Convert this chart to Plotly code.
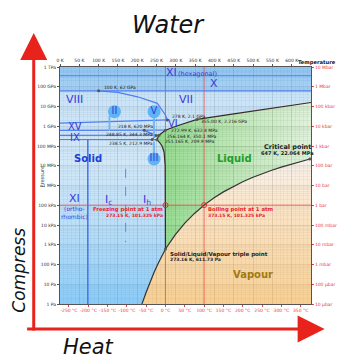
import plotly.graph_objects as go

# ---------------- data ----------------
T_MIN, T_MAX = 0.0, 650.0          # K
LOGP_MIN, LOGP_MAX = 0.0, 12.0     # log10(Pa)
P_MIN, P_MAX = 1.0, 1e12

# solid/liquid boundary (Ih, III, V, VI, VII melting curves)
melt_T = [273.16, 273.15, 272.4, 269.5, 264.2, 258.0, 251.165, 256.164, 265.0, 272.99, 300.0, 330.0, 355.0, 450.0, 550.0, 650.0]
melt_P = [611.657, 101325, 1e7, 5e7, 1e8, 1.5e8, 2.099e8, 3.501e8, 4.8e8, 6.324e8, 1.0e9, 1.6e9, 2.216e9, 4.2e9, 8.1e9, 1.6e10]

# liquid/vapour boundary (to critical point)
vap_T = [273.16, 298.15, 323.15, 348.15, 373.15, 398.15, 423.15, 448.15, 473.15, 498.15, 523.15, 548.15, 573.15, 598.15, 623.15, 647.0]
vap_P = [611.657, 3169.9, 12352, 38597, 101418, 232201, 476101, 892000, 1554900, 2550300, 3976200, 5941800, 8587900, 12046000, 16529000, 22064000]

# solid/vapour boundary (sublimation)
sub_T = [273.16, 263.15, 253.15, 243.15, 233.15, 223.15, 212.2]
sub_P = [611.657, 259.9, 103.2, 38.0, 12.84, 3.94, 1.0]

# ice-ice boundaries
b_xi_x_T, b_xi_x_P = [0, 650], [3.6e11, 3.6e11]
b_x_T, b_x_P = [0, 650], [6.2e10, 6.2e10]
b_viii_vii_T = [100, 150, 201, 252, 273, 278]
b_viii_vii_P = [6.2e10, 5.2e10, 3.1e10, 1.45e10, 3.7e9, 2.1e9]
b_vi_T, b_vi_P = [0, 278], [1.45e9, 2.1e9]
b_620_T, b_620_P = [0, 218, 272.99], [6.2e8, 6.2e8, 6.324e8]
b_344_T, b_344_P = [0, 248.85, 256.164], [3.443e8, 3.443e8, 3.501e8]
b_213_T, b_213_P = [0, 238.5, 251.165], [2.129e8, 2.129e8, 2.099e8]
b_ii_iii_T, b_ii_iii_P = [238.5, 248.85], [2.129e8, 3.443e8]
b_ii_v_T, b_ii_v_P = [248.85, 218], [3.443e8, 6.2e8]
b_xi_ic_T, b_xi_ic_P = [72, 72], [1.0, 2.129e8]
b_ic_ih_T, b_ic_ih_P = [170, 170], [7e6, 1.35e3]

# reference lines
ref_freeze_T, ref_boil_T, ref_atm_P = 273.15, 373.15, 101325

# labelled points
pts_T = [100, 278, 355, 218, 272.99, 248.85, 256.164, 238.5, 251.165, 273.16, 647]
pts_P = [6.2e10, 2.1e9, 2.216e9, 6.2e8, 6.324e8, 3.443e8, 3.501e8, 2.129e8, 2.099e8, 611.73, 2.2064e7]
atm_pts_T = [273.15, 373.15]
atm_pts_P = [101325, 101325]

pt_label_text = ["100 K, 62 GPa", "278 K, 2.1 GPa", "355.00 K, 2.216 GPa", "218 K, 620 MPa",
                 "272.99 K, 632.4 MPa", "248.85 K, 344.3 MPa", "256.164 K, 350.1 MPa",
                 "238.5 K, 212.9 MPa", "251.165 K, 209.9 MPa"]
pt_label_K = [108, 284, 360, 144, 281, 113, 273, 122, 267]
pt_label_logP = [10.95, 9.50, 9.23, 8.98, 8.76, 8.56, 8.50, 8.14, 8.21]

region_text = ["XI", "(hexagonal)", "X", "VIII", "VII", "VI", "XV", "IX", "XI", "(ortho-<br>rhombic)", "I<sub>c</sub>", "I<sub>h</sub>"]
region_K = [290, 357, 398, 38, 327, 292, 38, 38, 38, 37, 126, 225]
region_logP = [11.70, 11.66, 11.14, 10.36, 10.36, 9.14, 9.00, 8.42, 5.32, 4.63, 5.27, 5.27]
region_size = [11, 6.5, 11, 11, 11, 10, 10, 10, 11, 6, 11, 11]

circ_text = ["II", "V", "III"]
circ_T = [141, 243.5, 243.5]
circ_P = [5.5e9, 5.5e9, 2.2e7]
stem_ii_T, stem_ii_P = [128, 128], [3.4e9, 5.8e8]
stem_v_T, stem_v_P = [243.5, 243.5], [3.4e9, 3.0e8]
stem_iii_T, stem_iii_P = [243.5, 243.5], [4.0e7, 1.7e8]

K_ticks = [0, 50, 100, 150, 200, 250, 300, 350, 400, 450, 500, 550, 600]
K_labels = ["0 K", "50 K", "100 K", "150 K", "200 K", "250 K", "300 K", "350 K", "400 K", "450 K", "500 K", "550 K", "600 K"]
C_ticks = [-250, -200, -150, -100, -50, 0, 50, 100, 150, 200, 250, 300, 350]
C_labels = ["-250 °C", "-200 °C", "-150 °C", "-100 °C", "-50 °C", "0 °C", "50 °C", "100 °C", "150 °C", "200 °C", "250 °C", "300 °C", "350 °C"]
P_exp = list(range(13))
Pa_labels = ["1 Pa", "10 Pa", "100 Pa", "1 kPa", "10 kPa", "100 kPa", "1 MPa", "10 MPa", "100 MPa", "1 GPa", "10 GPa", "100 GPa", "1 TPa"]
bar_labels = ["10 μbar", "100 μbar", "1 mbar", "10 mbar", "100 mbar", "1 bar", "10 bar", "100 bar", "1 kbar", "10 kbar", "100 kbar", "1 Mbar", "10 Mbar"]

# ---------------- figure ----------------
FONT = "DejaVu Sans"
BLUE_LINE = "#4f7ff0"
fig = go.Figure()

def poly(xs, ys, grad):
    fig.add_trace(go.Scatter(x=xs, y=ys, mode="lines", line=dict(width=0), fill="toself",
                             fillgradient=grad, hoverinfo="skip", showlegend=False))

# ice region
ice_x = [T_MIN, T_MIN, T_MAX] + melt_T[::-1] + sub_T[1:] + [T_MIN]
ice_y = [P_MIN, P_MAX, P_MAX] + melt_P[::-1] + sub_P[1:] + [P_MIN]
poly(ice_x, ice_y, dict(type="vertical", colorscale=[
    [0.0, "rgba(110,190,245,0.80)"], [0.35, "rgba(160,210,245,0.70)"], [0.6, "rgba(190,222,246,0.70)"],
    [0.899, "rgba(180,216,245,0.72)"], [0.9, "rgba(140,195,240,0.75)"], [1.0, "rgba(120,184,238,0.80)"]]))

# liquid region
liq_x = melt_T + [T_MAX] + vap_T[::-1]
liq_y = melt_P + [vap_P[-1]] + vap_P[::-1]
poly(liq_x, liq_y, dict(type="horizontal", colorscale=[
    [0.0, "rgba(110,205,105,0.75)"], [0.5, "rgba(160,220,150,0.68)"], [1.0, "rgba(205,234,198,0.65)"]]))

# vapour region
vp_x = vap_T + [T_MAX, T_MAX] + sub_T[::-1]
vp_y = vap_P + [vap_P[-1], P_MIN] + sub_P[::-1]
poly(vp_x, vp_y, dict(type="vertical", colorscale=[
    [0.0, "rgba(245,195,120,0.80)"], [0.6, "rgba(248,215,170,0.72)"], [1.0, "rgba(245,236,226,0.65)"]]))

def line(xs, ys, color, width=1.2, dash="solid"):
    fig.add_trace(go.Scatter(x=xs, y=ys, mode="lines", line=dict(color=color, width=width, dash=dash),
                             hoverinfo="skip", showlegend=False))

# red reference lines
line([ref_freeze_T, ref_freeze_T], [P_MIN, P_MAX], "rgba(235,70,70,0.75)", 1)
line([ref_boil_T, ref_boil_T], [P_MIN, P_MAX], "rgba(235,70,70,0.75)", 1)
line([T_MIN, T_MAX], [ref_atm_P, ref_atm_P], "rgba(235,70,70,0.75)", 1)

# ice boundaries
for bx, by in [(b_xi_x_T, b_xi_x_P), (b_x_T, b_x_P), (b_viii_vii_T, b_viii_vii_P), (b_vi_T, b_vi_P),
               (b_620_T, b_620_P), (b_344_T, b_344_P), (b_213_T, b_213_P), (b_ii_iii_T, b_ii_iii_P),
               (b_ii_v_T, b_ii_v_P)]:
    line(bx, by, BLUE_LINE, 1.2)
line(b_xi_ic_T, b_xi_ic_P, "#4a78ec", 1.6)
line(b_ic_ih_T, b_ic_ih_P, "#5a86f0", 1.0, "dash")
for sx, sy in [(stem_ii_T, stem_ii_P), (stem_v_T, stem_v_P), (stem_iii_T, stem_iii_P)]:
    line(sx, sy, "#6fb4f5", 1.8)

# phase boundaries
line(melt_T, melt_P, "#3a2a2a", 1.2)
line(vap_T, vap_P, "#333333", 1.2)
line(sub_T, sub_P, "#333333", 1.2)

# points
fig.add_trace(go.Scatter(x=pts_T, y=pts_P, mode="markers", marker=dict(size=3, color="#555"),
                         hoverinfo="skip", showlegend=False))
fig.add_trace(go.Scatter(x=atm_pts_T, y=atm_pts_P, mode="markers",
                         marker=dict(size=5, color="rgba(255,255,255,0)", line=dict(color="#e03030", width=1)),
                         hoverinfo="skip", showlegend=False))
# circled labels
fig.add_trace(go.Scatter(x=circ_T, y=circ_P, mode="markers+text", text=circ_text,
                         textposition="middle center",
                         textfont=dict(family=FONT, size=10, color="#3a3ad8"),
                         marker=dict(size=13, color="#5db5f5"), hoverinfo="skip", showlegend=False))

# invisible trace for secondary axes
fig.add_trace(go.Scatter(x=[T_MIN, T_MAX], y=[P_MIN, P_MAX], xaxis="x2", yaxis="y2", mode="markers",
                         marker=dict(opacity=0), hoverinfo="skip", showlegend=False))

ann = []
for t, k, lp, s in zip(region_text, region_K, region_logP, region_size):
    ann.append(dict(x=k, y=lp, text=t, showarrow=False, font=dict(family=FONT, size=s, color="#3a3ad8")))
for t, k, lp in zip(pt_label_text, pt_label_K, pt_label_logP):
    ann.append(dict(x=k, y=lp, text=t, xanchor="left", showarrow=False, font=dict(family=FONT, size=4.5, color="#222")))

phase_text = ["<b>Solid</b>", "<b>Liquid</b>", "<b>Vapour</b>"]
phase_K = [72, 451, 500]
phase_logP = [7.38, 7.39, 1.50]
phase_col = ["#1a3fd6", "#1f9e2a", "#a07a10"]
for t, k, lp, c in zip(phase_text, phase_K, phase_logP, phase_col):
    ann.append(dict(x=k, y=lp, text=t, showarrow=False, font=dict(family=FONT, size=10, color=c)))

note_text = ["<b>Critical point</b>", "<b>647 K, 22.064 MPa</b>",
             "<b>Freezing point at 1 atm</b>", "<b>273.15 K, 101.325 kPa</b>",
             "<b>Boiling point at 1 atm</b>", "<b>373.15 K, 101.325 kPa</b>",
             "<b>Solid/Liquid/Vapour triple point</b>", "<b>273.16 K, 611.73 Pa</b>"]
note_K = [589, 589, 271, 271, 379, 379, 280, 280]
note_logP = [7.93, 7.63, 4.76, 4.49, 4.76, 4.46, 2.52, 2.23]
note_anchor = ["center", "center", "right", "right", "left", "left", "left", "left"]
note_size = [6.5, 5, 5.3, 4.5, 5.3, 4.5, 5.5, 4.5]
note_col = ["#222", "#222", "#e8242a", "#e8242a", "#e8242a", "#e8242a", "#222", "#222"]
for t, k, lp, a, s, c in zip(note_text, note_K, note_logP, note_anchor, note_size, note_col):
    ann.append(dict(x=k, y=lp, text=t, xanchor=a, showarrow=False, font=dict(family=FONT, size=s, color=c)))

# axis captions
ann.append(dict(xref="paper", yref="paper", x=1.022, y=1.02, xanchor="center", yanchor="middle",
                text="<b>Temperature</b>", showarrow=False, font=dict(family=FONT, size=5.2, color="#111")))
ann.append(dict(xref="paper", yref="paper", x=-0.07, y=0.536, xanchor="center", yanchor="middle",
                text="Pressure", textangle=-90, showarrow=False, font=dict(family=FONT, size=5, color="#333")))

# sketch decorations
ARROW = "#e8231b"
ann.append(dict(xref="paper", yref="paper", x=-0.1047, y=1.1435, ax=0, ay=299, text="", showarrow=True,
                arrowhead=2, arrowsize=1.8, arrowwidth=3, arrowcolor=ARROW))
ann.append(dict(xref="paper", yref="paper", x=1.0543, y=-0.1055, ax=-299, ay=0, text="", showarrow=True,
                arrowhead=2, arrowsize=1.8, arrowwidth=3, arrowcolor=ARROW))
ann.append(dict(xref="paper", yref="paper", x=0.434, y=1.176, xanchor="center", yanchor="middle",
                text="<i>Water</i>", showarrow=False, font=dict(family=FONT, size=24, color="#111")))
ann.append(dict(xref="paper", yref="paper", x=-0.161, y=0.143, xanchor="center", yanchor="middle",
                text="<i>Compress</i>", textangle=-90, showarrow=False, font=dict(family=FONT, size=17, color="#111")))
ann.append(dict(xref="paper", yref="paper", x=0.112, y=-0.181, xanchor="center", yanchor="middle",
                text="<i>Heat</i>", showarrow=False, font=dict(family=FONT, size=21, color="#111")))

minor_vals = [m * 10 ** e for e in range(12) for m in range(2, 10)]
C_ticks_K = [c + 273.15 for c in C_ticks]

fig.update_layout(
    width=341, height=353,
    margin=dict(l=52, r=31, t=59, b=57),
    paper_bgcolor="white", plot_bgcolor="white",
    font=dict(family=FONT),
    showlegend=False,
    annotations=ann,
    xaxis=dict(range=[T_MIN, T_MAX], tickvals=C_ticks_K, ticktext=C_labels,
               tickfont=dict(size=4.5, color="#e84040"), showgrid=False, zeroline=False,
               ticks="outside", ticklen=2, tickcolor="#e84040",
               showline=True, linecolor="#555", linewidth=1),
    xaxis2=dict(range=[T_MIN, T_MAX], overlaying="x", side="top", tickvals=K_ticks, ticktext=K_labels,
                tickfont=dict(size=4.5, color="#333"), showgrid=True, gridcolor="rgba(60,60,60,0.35)",
                gridwidth=1, zeroline=False, ticks="outside", ticklen=2, tickcolor="#555",
                showline=True, linecolor="#555", linewidth=1,
                minor=dict(dtick=10, showgrid=True, gridcolor="rgba(60,60,60,0.15)", ticks="")),
    yaxis=dict(type="log", range=[LOGP_MIN, LOGP_MAX], tickvals=[10 ** e for e in P_exp], ticktext=Pa_labels,
               tickfont=dict(size=4.5, color="#333"), showgrid=True, gridcolor="rgba(60,60,60,0.35)",
               zeroline=False, ticks="outside", ticklen=2, tickcolor="#555",
               showline=True, linecolor="#555", linewidth=1,
               minor=dict(tickvals=minor_vals, showgrid=True, gridcolor="rgba(60,60,60,0.15)", ticks="")),
    yaxis2=dict(type="log", range=[LOGP_MIN, LOGP_MAX], overlaying="y", side="right",
                tickvals=[10 ** e for e in P_exp], ticktext=bar_labels,
                tickfont=dict(size=4.5, color="#e84040"), showgrid=False, zeroline=False,
                ticks="outside", ticklen=2, tickcolor="#e84040",
                showline=True, linecolor="#555", linewidth=1),
)

fig.write_html("out.html")
